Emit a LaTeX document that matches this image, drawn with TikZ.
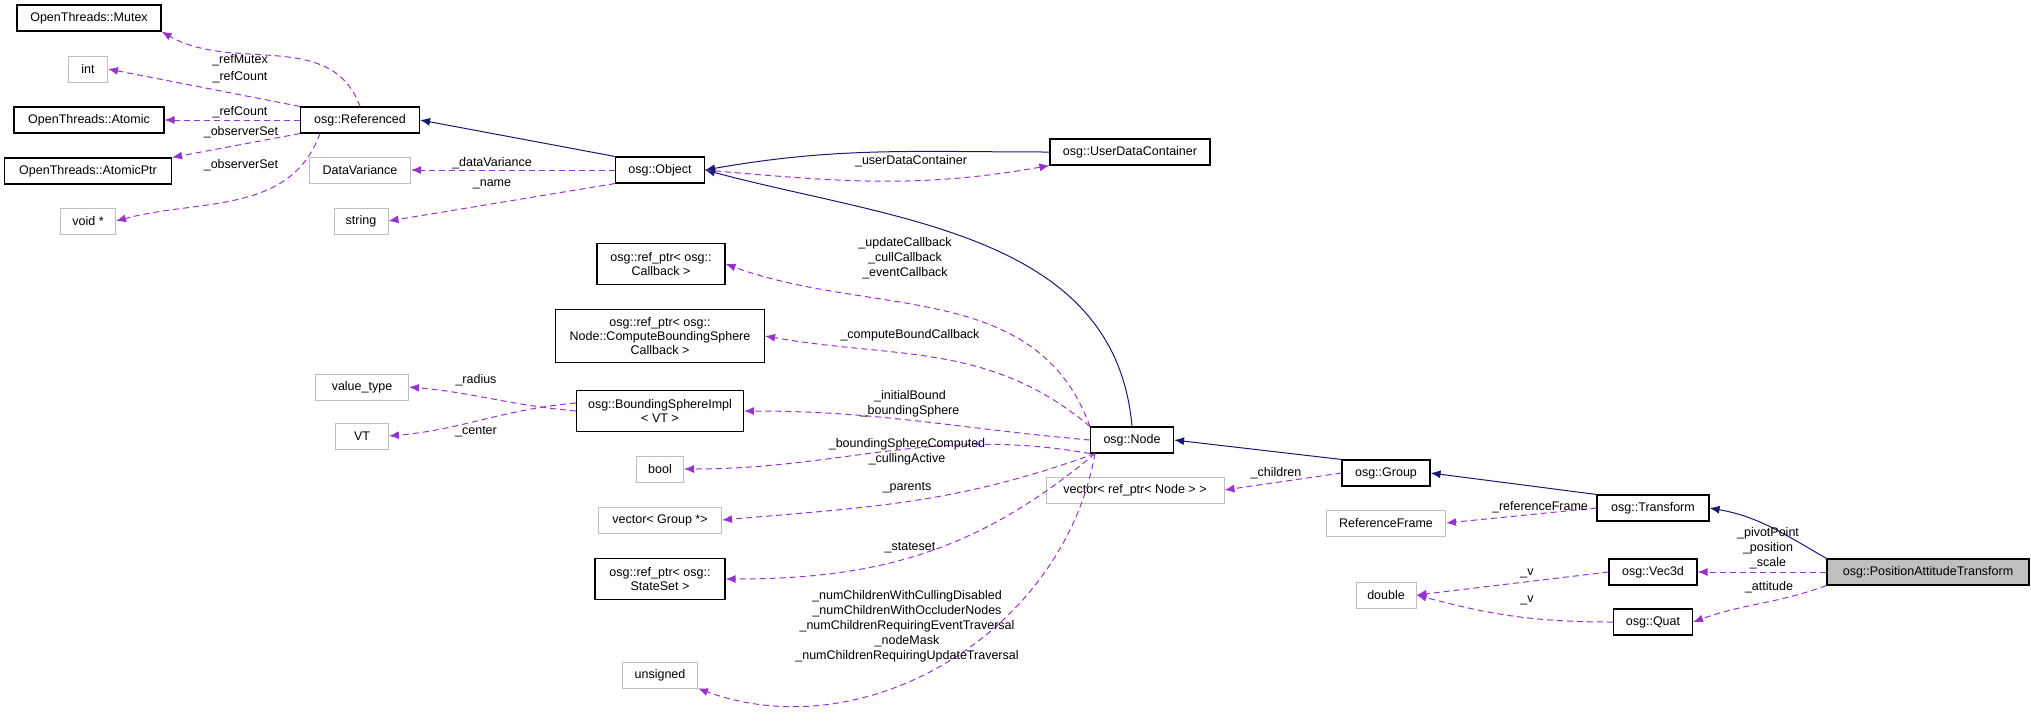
\documentclass[tikz,border=0pt]{standalone}
\usepackage{fontspec}
\setmainfont{Liberation Sans}
\usetikzlibrary{arrows.meta}
\definecolor{inhc}{RGB}{25,25,112}
\definecolor{memc}{RGB}{153,50,204}
\begin{document}
\begin{tikzpicture}[x=1pt,y=-1pt,
 font=\fontsize{12.5}{14}\selectfont,
 box/.style={draw=black,line width=1.1pt,inner sep=2pt,align=center,minimum height=26,fill=white},
 gbox/.style={draw=black!25,line width=1pt,inner sep=2pt,align=center,minimum height=26,fill=white},
 inh/.style={draw=inhc,line width=1pt,-{Latex[length=10,width=8]}},
 mem/.style={draw=memc,dash pattern=on 6pt off 4pt,line width=1pt,-{Latex[length=10,width=8]}},
 lab/.style={align=center,inner sep=0pt,font=\fontsize{12.5}{15}\selectfont}]
\useasboundingbox (0,0) rectangle (2031,721);
\node[box,minimum width=144] (mutex) at (89,18) {OpenThreads::Mutex};
\node[gbox,minimum width=39] (int) at (88,69) {int};
\node[box,minimum width=150] (atomic) at (89,120) {OpenThreads::Atomic};
\node[box,minimum width=167] (aptr) at (88,171) {OpenThreads::AtomicPtr};
\node[gbox,minimum width=55] (void) at (88,221) {void *};
\node[box,minimum width=119] (ref) at (360,120) {osg::Referenced};
\node[gbox,minimum width=101] (dv) at (360,170) {DataVariance};
\node[gbox,minimum width=54] (str) at (361,221) {string};
\node[box,minimum width=89] (obj) at (660,170) {osg::Object};
\node[box,minimum width=160] (udc) at (1130,152) {osg::UserDataContainer};
\node[box,minimum width=128,minimum height=41] (cb) at (661,264) {osg::ref\_ptr< osg::\\Callback >};
\node[box,minimum width=209,minimum height=53] (cbs) at (660,336) {osg::ref\_ptr< osg::\\Node::ComputeBoundingSphere\\Callback >};
\node[gbox,minimum width=93] (vt1) at (362,387) {value\_type};
\node[gbox,minimum width=53] (vt) at (362,436) {VT};
\node[box,minimum width=167,minimum height=41] (bsi) at (660,411) {osg::BoundingSphereImpl\\< VT >};
\node[gbox,minimum width=47] (bool) at (660,469) {bool};
\node[gbox,minimum width=123] (vg) at (660,520) {vector< Group *>};
\node[box,minimum width=130,minimum height=41] (ss) at (660,579) {osg::ref\_ptr< osg::\\StateSet >};
\node[gbox,minimum width=75] (uns) at (660,675) {unsigned};
\node[box,minimum width=83] (node) at (1132,440) {osg::Node};
\node[gbox,minimum width=178] (vr) at (1135,490) {vector< ref\_ptr< Node > >};
\node[box,minimum width=88] (grp) at (1386,473) {osg::Group};
\node[gbox,minimum width=119] (rf) at (1386,523) {ReferenceFrame};
\node[box,minimum width=112] (tr) at (1653,508) {osg::Transform};
\node[box,minimum width=202,fill=black!25] (pat) at (1928,572) {osg::PositionAttitudeTransform};
\node[box,minimum width=88] (v3) at (1653,572) {osg::Vec3d};
\node[gbox,minimum width=60] (dbl) at (1386,595) {double};
\node[box,minimum width=79] (quat) at (1653,622) {osg::Quat};
% inheritance
\draw[inh] (obj.north west) -- (ref.east);
\draw[inh] (udc.west) to[out=180,in=10] (obj.east);
\draw[inh] (node.north) to[out=95,in=-15] (obj.east);
\draw[inh] (grp.north west) -- (node.east);
\draw[inh] (tr.north west) -- (grp.east);
\draw[inh] (pat.north west) to[out=150,in=-10] (tr.east);
% members
\draw[mem] (ref.north) to[out=110,in=-30] (mutex.south east);
\draw[mem] (ref.north west) -- (int.east);
\draw[mem] (ref.west) -- (atomic.east);
\draw[mem] (ref.south west) -- (aptr.north east);
\draw[mem] ([xshift=20]ref.south west) to[out=-110,in=15] (void.east);
\draw[mem] (obj.west) -- (dv.east);
\draw[mem] (obj.south west) -- (str.east);
\draw[mem] (obj.east) to[out=-5,in=190] (udc.south west);
\draw[mem] (node.north west) to[out=110,in=-20] (cb.east);
\draw[mem] (node.north west) to[out=140,in=-10] (cbs.east);
\draw[mem] (node.west) to[out=175,in=0] (bsi.east);
\draw[mem] (node.south west) to[out=170,in=0] (bool.east);
\draw[mem] ([xshift=5]node.south west) to[out=200,in=5] (vg.east);
\draw[mem] ([xshift=5]node.south west) to[out=220,in=0] (ss.east);
\draw[mem] ([xshift=5]node.south west) to[out=-100,in=-20] (uns.south east);
\draw[mem] (bsi.west) to[out=175,in=-5] (vt1.east);
\draw[mem] ([yshift=8]bsi.west) to[out=185,in=5] (vt.east);
\draw[mem] (grp.west) -- (vr.east);
\draw[mem] (tr.west) -- (rf.east);
\draw[mem] (pat.west) -- (v3.east);
\draw[mem] (pat.south west) to[out=-160,in=20] (quat.east);
\draw[mem] (v3.west) -- (dbl.east);
\draw[mem] (quat.west) to[out=180,in=-15] (dbl.east);
% labels
\node[lab] (l1) at (240,60) {\_refMutex};
\node[lab] (l2) at (240,77) {\_refCount};
\node[lab] (l3) at (240,112) {\_refCount};
\node[lab] (l4) at (241,132) {\_observerSet};
\node[lab] (l5) at (241,165) {\_observerSet};
\node[lab] (l6) at (492,163) {\_dataVariance};
\node[lab] (l7) at (492,184) {\_name};
\node[lab] (l8) at (911,161) {\_userDataContainer};
\node[lab] (l9) at (905,258) {\_updateCallback\\\_cullCallback\\\_eventCallback};
\node[lab] (l10) at (910,335) {\_computeBoundCallback};
\node[lab] (l11) at (910,404) {\_initialBound\\\_boundingSphere};
\node[lab] (l12) at (907,452) {\_boundingSphereComputed\\\_cullingActive};
\node[lab] (l13) at (907,488) {\_parents};
\node[lab] (l14) at (910,548) {\_stateset};
\node[lab] (l15) at (907,626) {\_numChildrenWithCullingDisabled\\\_numChildrenWithOccluderNodes\\\_numChildrenRequiringEventTraversal\\\_nodeMask\\\_numChildrenRequiringUpdateTraversal};
\node[lab] (l16) at (476,380) {\_radius};
\node[lab] (l17) at (476,432) {\_center};
\node[lab] (l18) at (1276,473) {\_children};
\node[lab] (l19) at (1540,507) {\_referenceFrame};
\node[lab] (l20) at (1768,548) {\_pivotPoint\\\_position\\\_scale};
\node[lab] (l21) at (1527,573) {\_v};
\node[lab] (l22) at (1527,600) {\_v};
\node[lab] (l23) at (1769,587) {\_attitude};
\end{tikzpicture}
\end{document}
